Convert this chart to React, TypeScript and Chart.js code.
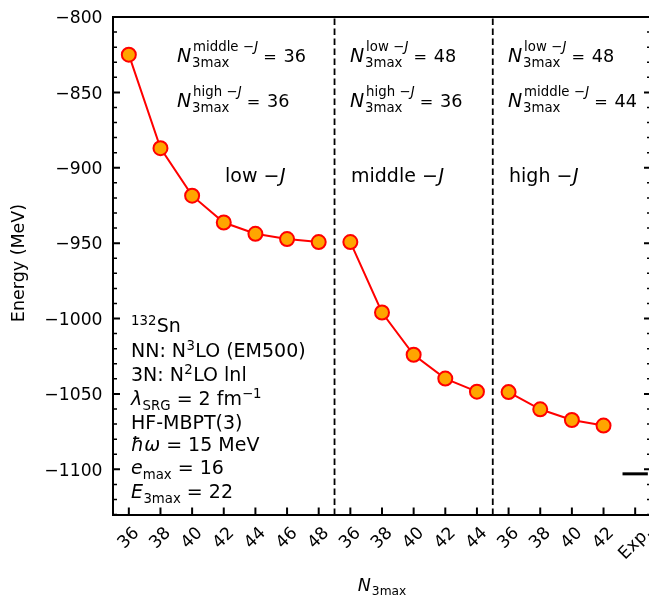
import React, { useEffect, useRef } from "react";
import { Chart, registerables } from "chart.js";

Chart.register(...registerables);

// ---------- data ----------
const lowJN = [36, 38, 40, 42, 44, 46, 48];
const lowJE = [-825, -887, -918.5, -936.3, -943.8, -947.3, -949.3];
const midJN = [36, 38, 40, 42, 44];
const midJE = [-949.3, -996, -1024, -1039.8, -1048.5];
const highJN = [36, 38, 40, 42];
const highJE = [-1048.8, -1060.2, -1067.3, -1071];
const expLabel = "Exp.";
const expE = -1103;
const yMajorTicks = [-800, -850, -900, -950, -1000, -1050, -1100];
const yMin = -1130.3;
const yMax = -800;
const xTickLabels: string[] = [
  ...lowJN.map(String),
  ...midJN.map(String),
  ...highJN.map(String),
  expLabel,
];

const FONT = '"DejaVu Sans"';
const CW = 660;
const CH = 595;
const TICKFS = 17.2;

type Seg = { t: string; it?: boolean; sc?: number; dy?: number; dx?: number };
type Stack = { sup?: Seg[]; sub?: Seg[]; dxSup?: number; dxSub?: number };
type Item = Seg | Stack;

function drawSegs(ctx: CanvasRenderingContext2D, x: number, y: number, size: number, segs: Seg[], scale = 1, dyBase = 0) {
  let cx = x;
  for (const s of segs) {
    const fs = size * scale * (s.sc ?? 1);
    ctx.font = `${s.it ? "italic " : ""}${fs}px ${FONT}`;
    cx += (s.dx ?? 0) * size;
    ctx.fillText(s.t, cx, y + ((s.dy ?? 0) + dyBase) * size);
    cx += ctx.measureText(s.t).width;
  }
  return cx;
}

function drawRich(ctx: CanvasRenderingContext2D, x: number, y: number, size: number, items: Item[]) {
  ctx.textAlign = "left";
  ctx.textBaseline = "alphabetic";
  let cx = x;
  for (const it of items) {
    if ("t" in it) {
      cx = drawSegs(ctx, cx, y, size, [it]);
    } else {
      let e1 = cx;
      let e2 = cx;
      if (it.sup) e1 = drawSegs(ctx, cx + (it.dxSup ?? 0) * size, y, size, it.sup, 0.7, -0.6);
      if (it.sub) e2 = drawSegs(ctx, cx + (it.dxSub ?? 0) * size, y, size, it.sub, 0.7, 0.24);
      cx = Math.max(e1, e2);
    }
  }
  return cx;
}

const jSup = (word: string): Seg[] => [{ t: word }, { t: " \u2212" }, { t: "J", it: true, dx: 0.02 }];
const nLabel = (word: string, val: string): Item[] => [
  { t: "N", it: true },
  { sup: jSup(word), sub: [{ t: "3max" }], dxSup: 0.1, dxSub: 0.04 },
  { t: "=", sc: 0.85, dx: 0.26 },
  { t: val, sc: 0.93, dx: 0.36 },
];

const annotPlugin = {
  id: "annot",
  beforeDatasetsDraw(chart: any) {
    const ctx: CanvasRenderingContext2D = chart.ctx;
    const xs = chart.scales.x;
    const { top, bottom } = chart.chartArea;
    ctx.save();
    ctx.strokeStyle = "#000";
    ctx.lineWidth = 1.8;
    ctx.setLineDash([6.5, 3.5]);
    for (const b of [lowJN.length - 0.5, lowJN.length + midJN.length - 0.5]) {
      const px = xs.getPixelForValue(b);
      ctx.beginPath();
      ctx.moveTo(px, bottom);
      ctx.lineTo(px, top);
      ctx.stroke();
    }
    ctx.restore();
  },
  afterDraw(chart: any) {
    const ctx: CanvasRenderingContext2D = chart.ctx;
    const xs = chart.scales.x;
    const ys = chart.scales.y;
    const { left, right, top, bottom } = chart.chartArea;
    ctx.save();
    ctx.fillStyle = "#000";
    ctx.strokeStyle = "#000";

    // spines
    ctx.lineWidth = 2;
    ctx.strokeRect(left, top, right - left, bottom - top);

    // y ticks (inward, left and right)
    for (let v = -800; v >= yMin; v -= 10) {
      const py = ys.getPixelForValue(v);
      const major = v % 50 === 0;
      const len = major ? 7 : 4;
      ctx.lineWidth = major ? 2 : 1.5;
      ctx.beginPath();
      ctx.moveTo(left, py);
      ctx.lineTo(left + len, py);
      ctx.moveTo(right, py);
      ctx.lineTo(right - len, py);
      ctx.stroke();
    }
    // y tick labels
    ctx.font = `${TICKFS}px ${FONT}`;
    ctx.textAlign = "right";
    ctx.textBaseline = "alphabetic";
    for (const v of yMajorTicks) {
      const py = ys.getPixelForValue(v);
      ctx.fillText("\u2212" + String(Math.abs(v)), left - 10.5, py + 0.3645 * TICKFS);
    }

    // x ticks and labels
    xTickLabels.forEach((lab, i) => {
      const px = xs.getPixelForValue(i);
      ctx.lineWidth = 2;
      ctx.beginPath();
      ctx.moveTo(px, bottom);
      ctx.lineTo(px, bottom - 7.5);
      ctx.stroke();
      ctx.font = `${TICKFS}px ${FONT}`;
      const w = ctx.measureText(lab).width;
      const h = TICKFS * 1.164;
      const cy = bottom + 8.5 + ((w + h) * Math.SQRT1_2) / 2;
      ctx.save();
      ctx.translate(px, cy);
      ctx.rotate(-Math.PI / 4);
      ctx.textAlign = "center";
      ctx.textBaseline = "middle";
      ctx.fillText(lab, 0, 0);
      ctx.restore();
    });

    // axis titles
    ctx.save();
    ctx.translate(24, 263);
    ctx.rotate(-Math.PI / 2);
    ctx.font = `17.5px ${FONT}`;
    ctx.textAlign = "center";
    ctx.textBaseline = "alphabetic";
    ctx.fillText("Energy (MeV)", 0, 0);
    ctx.restore();

    {
      ctx.font = `italic 17.5px ${FONT}`;
      const wN = ctx.measureText("N").width;
      ctx.font = `${17.5 * 0.7}px ${FONT}`;
      const wS = ctx.measureText("3max").width;
      const total = wN + wS + 1;
      const cx = (left + right) / 2;
      drawRich(ctx, cx - total / 2, 591, 17.5, [
        { t: "N", it: true },
        { sub: [{ t: "3max" }], dxSub: 0.06 },
      ]);
    }

    // annotations in panels
    const S = 19;
    const b1 = 62;
    const b2 = 107;
    const b3 = 181.5;
    const p1 = 177;
    const p2 = 350;
    const p3 = 508;
    drawRich(ctx, p1, b1, S, nLabel("middle", "36"));
    drawRich(ctx, p1, b2, S, nLabel("high", "36"));
    drawRich(ctx, 225, b3, S, [{ t: "low \u2212" }, { t: "J", it: true, dx: 0.03 }]);

    drawRich(ctx, p2, b1, S, nLabel("low", "48"));
    drawRich(ctx, p2, b2, S, nLabel("high", "36"));
    drawRich(ctx, p2 + 1, b3, S, [{ t: "middle \u2212" }, { t: "J", it: true, dx: 0.03 }]);

    drawRich(ctx, p3, b1, S, nLabel("low", "48"));
    drawRich(ctx, p3, b2, S, nLabel("middle", "44"));
    drawRich(ctx, p3 + 1, b3, S, [{ t: "high \u2212" }, { t: "J", it: true, dx: 0.03 }]);

    // parameter block
    const bx = 131;
    const up = 0.23;
    drawRich(ctx, bx, 332, S, [{ sup: [{ t: "132", dy: up }] }, { t: "Sn", dx: 0.02 }]);
    drawRich(ctx, bx, 357, S, [{ t: "NN: N" }, { sup: [{ t: "3", dy: up, dx: 0.02 }] }, { t: "LO (EM500)", dx: 0.02 }]);
    drawRich(ctx, bx, 381, S, [{ t: "3N: N" }, { sup: [{ t: "2", dy: up, dx: 0.02 }] }, { t: "LO lnl", dx: 0.02 }]);
    drawRich(ctx, bx, 405, S, [
      { t: "\u03bb", it: true },
      { sub: [{ t: "SRG" }], dxSub: 0.02 },
      { t: " = 2 fm" },
      { sup: [{ t: "\u22121", dy: up }] },
    ]);
    drawRich(ctx, bx, 429, S, [{ t: "HF-MBPT(3)" }]);
    drawRich(ctx, bx, 451, S, [{ t: "\u0127\u03c9", it: true }, { t: " = 15 MeV" }]);
    drawRich(ctx, bx, 474, S, [{ t: "e", it: true }, { sub: [{ t: "max" }] }, { t: " = 16" }]);
    drawRich(ctx, bx, 498, S, [{ t: "E", it: true }, { sub: [{ t: "3max" }], dxSub: 0.02 }, { t: " = 22" }]);

    ctx.restore();
  },
};

export default function App() {
  const ref = useRef<HTMLCanvasElement | null>(null);
  useEffect(() => {
    if (!ref.current) return;
    const mk = (vals: number[], offset: number) =>
      vals.map((e, k) => ({ x: offset + k, y: e }));
    const pointStyle = {
      borderColor: "#ff0000",
      backgroundColor: "#ffa500",
      borderWidth: 2,
      pointRadius: 7,
      pointBorderWidth: 2,
      pointBackgroundColor: "#ffa500",
      pointBorderColor: "#ff0000",
      showLine: true,
      tension: 0,
      clip: false as any,
    };
    const expIdx = xTickLabels.length - 1;
    const chart = new Chart(ref.current, {
      type: "scatter",
      data: {
        datasets: [
          { label: "low-J", data: mk(lowJE, 0), ...pointStyle },
          { label: "middle-J", data: mk(midJE, lowJN.length), ...pointStyle },
          { label: "high-J", data: mk(highJE, lowJN.length + midJN.length), ...pointStyle },
          {
            label: "Exp.",
            data: [
              { x: expIdx - 0.4, y: expE },
              { x: expIdx + 0.4, y: expE },
            ],
            showLine: true,
            borderColor: "#000",
            borderWidth: 3,
            pointRadius: 0,
            backgroundColor: "#000",
          },
        ],
      },
      options: {
        responsive: false,
        maintainAspectRatio: false,
        devicePixelRatio: 1,
        animation: false,
        layout: { padding: { left: 113, top: 17, right: CW - 651, bottom: CH - 515 } },
        plugins: { legend: { display: false }, tooltip: { enabled: false } },
        scales: {
          x: { type: "linear", min: -0.5, max: 16.5, display: false },
          y: { type: "linear", min: yMin, max: yMax, display: false },
        },
      },
      plugins: [annotPlugin],
    });
    return () => chart.destroy();
  }, []);
  return (
    <div
      style={{
        position: "absolute",
        left: 0,
        top: 0,
        width: 649,
        height: 595,
        overflow: "hidden",
        background: "#fff",
      }}
    >
      <canvas ref={ref} width={CW} height={CH} style={{ display: "block", width: CW, height: CH }} />
    </div>
  );
}
